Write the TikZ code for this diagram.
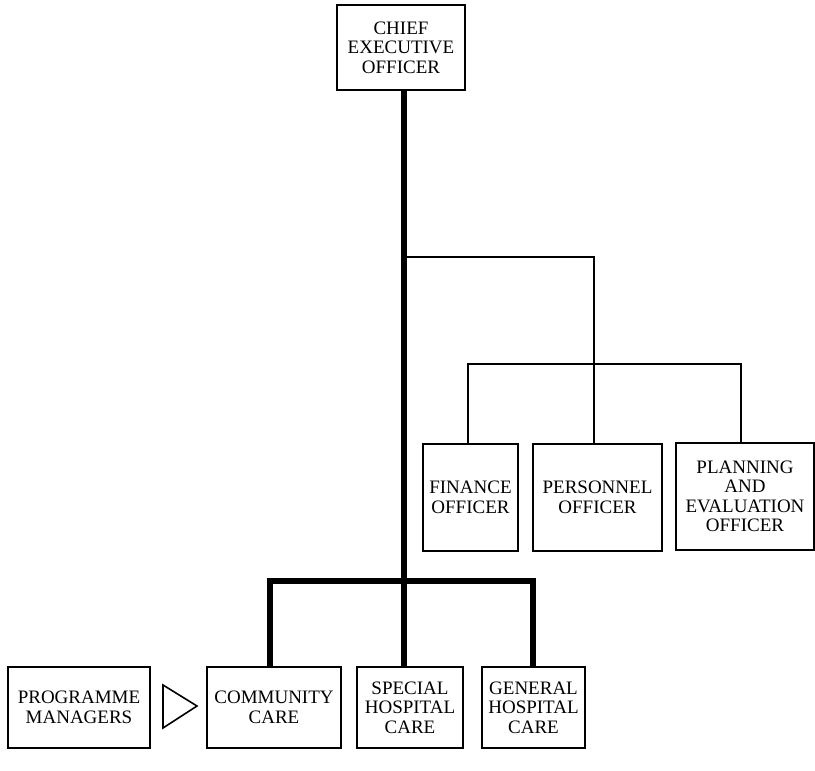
\documentclass[tikz,border=0pt]{standalone}
\usepackage{fontspec}
\setmainfont{Liberation Serif}
\begin{document}
\begin{tikzpicture}[x=1pt,y=-1pt,
  box/.style={draw, line width=1.6pt, align=center, inner sep=0pt,
    font=\fontsize{19}{19.5}\selectfont},
  thin/.style={line width=1.4pt},
  heavy/.style={line width=6pt}]
\useasboundingbox (0,0) rectangle (815,771);
% nodes
\node[box, minimum width=128pt, minimum height=85pt] (ceo) at (401,47.5) {CHIEF\\EXECUTIVE\\OFFICER};
\node[box, minimum width=95pt, minimum height=107pt] (fin) at (470.5,497.5) {FINANCE\\OFFICER};
\node[box, minimum width=129pt, minimum height=107pt] (per) at (597.5,497.5) {PERSONNEL\\OFFICER};
\node[box, minimum width=138pt, minimum height=107pt] (pla) at (745,496.5) {PLANNING\\AND\\EVALUATION\\OFFICER};
\node[box, minimum width=142pt, minimum height=81pt] (pm) at (79,707.5) {PROGRAMME\\MANAGERS};
\node[box, minimum width=134pt, minimum height=81pt] (com) at (274,707.5) {COMMUNITY\\CARE};
\node[box, minimum width=106pt, minimum height=81pt] (spe) at (410,707.5) {SPECIAL\\HOSPITAL\\CARE};
\node[box, minimum width=103pt, minimum height=81pt] (gen) at (533.5,707.5) {GENERAL\\HOSPITAL\\CARE};
% junction coordinates
\coordinate (tj) at (404,581);
\coordinate (sb) at (404,257);
\coordinate (sd) at (594,257);
\coordinate (sj) at (594,364);
\coordinate (cx) at (270,581);
\coordinate (gx) at (533,581);
% thick line structure
\draw[heavy] (ceo.south -| tj) -- (spe.north -| tj);
\draw[heavy, line join=miter] (com.north -| cx) -- (cx) -- (gx) -- (gen.north -| gx);
% staff branch
\draw[thin] (sb) -- (sd) -- (sj);
\draw[thin] (fin.north -| 468,0) -- (468,364) -- (741,364) -- (pla.north -| 741,0);
\draw[thin] (sj) -- (per.north -| sj);
% triangle
\draw[line width=1.6pt, line join=miter] (163,685) -- (197,706) -- (163,728) -- cycle;
\end{tikzpicture}
\end{document}
